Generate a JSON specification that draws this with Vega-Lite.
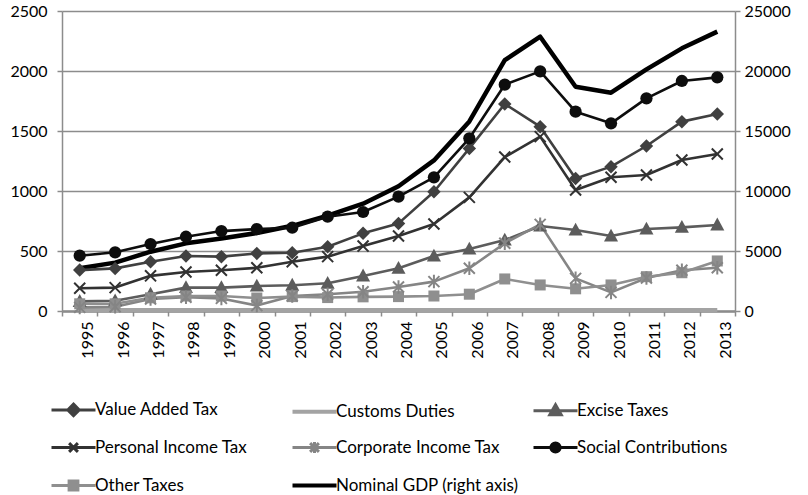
{
  "$schema": "https://vega.github.io/schema/vega-lite/v6.json",
  "width": 673,
  "height": 300,
  "autosize": {"type": "none"},
  "padding": {"left": 62, "top": 11, "right": 73, "bottom": 184},
  "background": "white",
  "config": {"font": "Lato", "view": {"stroke": null}},
  "datasets": {
    "taxes": [
      {"year":"1995","series":"Value Added Tax","value":341},{"year":"1996","series":"Value Added Tax","value":355},{"year":"1997","series":"Value Added Tax","value":411},{"year":"1998","series":"Value Added Tax","value":458},{"year":"1999","series":"Value Added Tax","value":453},{"year":"2000","series":"Value Added Tax","value":480},{"year":"2001","series":"Value Added Tax","value":486},{"year":"2002","series":"Value Added Tax","value":536},{"year":"2003","series":"Value Added Tax","value":647},{"year":"2004","series":"Value Added Tax","value":730},{"year":"2005","series":"Value Added Tax","value":994},{"year":"2006","series":"Value Added Tax","value":1355},{"year":"2007","series":"Value Added Tax","value":1725},{"year":"2008","series":"Value Added Tax","value":1536},{"year":"2009","series":"Value Added Tax","value":1105},{"year":"2010","series":"Value Added Tax","value":1203},{"year":"2011","series":"Value Added Tax","value":1375},{"year":"2012","series":"Value Added Tax","value":1578},{"year":"2013","series":"Value Added Tax","value":1642},
      {"year":"1995","series":"Customs Duties","value":8},{"year":"1996","series":"Customs Duties","value":8},{"year":"1997","series":"Customs Duties","value":8},{"year":"1998","series":"Customs Duties","value":8},{"year":"1999","series":"Customs Duties","value":8},{"year":"2000","series":"Customs Duties","value":8},{"year":"2001","series":"Customs Duties","value":8},{"year":"2002","series":"Customs Duties","value":8},{"year":"2003","series":"Customs Duties","value":8},{"year":"2004","series":"Customs Duties","value":8},{"year":"2005","series":"Customs Duties","value":8},{"year":"2006","series":"Customs Duties","value":8},{"year":"2007","series":"Customs Duties","value":8},{"year":"2008","series":"Customs Duties","value":8},{"year":"2009","series":"Customs Duties","value":8},{"year":"2010","series":"Customs Duties","value":8},{"year":"2011","series":"Customs Duties","value":8},{"year":"2012","series":"Customs Duties","value":8},{"year":"2013","series":"Customs Duties","value":8},
      {"year":"1995","series":"Excise Taxes","value":80},{"year":"1996","series":"Excise Taxes","value":85},{"year":"1997","series":"Excise Taxes","value":140},{"year":"1998","series":"Excise Taxes","value":195},{"year":"1999","series":"Excise Taxes","value":195},{"year":"2000","series":"Excise Taxes","value":208},{"year":"2001","series":"Excise Taxes","value":215},{"year":"2002","series":"Excise Taxes","value":231},{"year":"2003","series":"Excise Taxes","value":292},{"year":"2004","series":"Excise Taxes","value":356},{"year":"2005","series":"Excise Taxes","value":458},{"year":"2006","series":"Excise Taxes","value":516},{"year":"2007","series":"Excise Taxes","value":591},{"year":"2008","series":"Excise Taxes","value":708},{"year":"2009","series":"Excise Taxes","value":675},{"year":"2010","series":"Excise Taxes","value":625},{"year":"2011","series":"Excise Taxes","value":683},{"year":"2012","series":"Excise Taxes","value":697},{"year":"2013","series":"Excise Taxes","value":717},
      {"year":"1995","series":"Personal Income Tax","value":190},{"year":"1996","series":"Personal Income Tax","value":195},{"year":"1997","series":"Personal Income Tax","value":293},{"year":"1998","series":"Personal Income Tax","value":325},{"year":"1999","series":"Personal Income Tax","value":340},{"year":"2000","series":"Personal Income Tax","value":360},{"year":"2001","series":"Personal Income Tax","value":410},{"year":"2002","series":"Personal Income Tax","value":453},{"year":"2003","series":"Personal Income Tax","value":541},{"year":"2004","series":"Personal Income Tax","value":625},{"year":"2005","series":"Personal Income Tax","value":725},{"year":"2006","series":"Personal Income Tax","value":947},{"year":"2007","series":"Personal Income Tax","value":1283},{"year":"2008","series":"Personal Income Tax","value":1453},{"year":"2009","series":"Personal Income Tax","value":1008},{"year":"2010","series":"Personal Income Tax","value":1114},{"year":"2011","series":"Personal Income Tax","value":1133},{"year":"2012","series":"Personal Income Tax","value":1258},{"year":"2013","series":"Personal Income Tax","value":1308},
      {"year":"1995","series":"Corporate Income Tax","value":30},{"year":"1996","series":"Corporate Income Tax","value":35},{"year":"1997","series":"Corporate Income Tax","value":100},{"year":"1998","series":"Corporate Income Tax","value":115},{"year":"1999","series":"Corporate Income Tax","value":105},{"year":"2000","series":"Corporate Income Tax","value":45},{"year":"2001","series":"Corporate Income Tax","value":125},{"year":"2002","series":"Corporate Income Tax","value":140},{"year":"2003","series":"Corporate Income Tax","value":160},{"year":"2004","series":"Corporate Income Tax","value":200},{"year":"2005","series":"Corporate Income Tax","value":245},{"year":"2006","series":"Corporate Income Tax","value":356},{"year":"2007","series":"Corporate Income Tax","value":565},{"year":"2008","series":"Corporate Income Tax","value":722},{"year":"2009","series":"Corporate Income Tax","value":272},{"year":"2010","series":"Corporate Income Tax","value":155},{"year":"2011","series":"Corporate Income Tax","value":275},{"year":"2012","series":"Corporate Income Tax","value":340},{"year":"2013","series":"Corporate Income Tax","value":360},
      {"year":"1995","series":"Social Contributions","value":461},{"year":"1996","series":"Social Contributions","value":489},{"year":"1997","series":"Social Contributions","value":558},{"year":"1998","series":"Social Contributions","value":619},{"year":"1999","series":"Social Contributions","value":666},{"year":"2000","series":"Social Contributions","value":683},{"year":"2001","series":"Social Contributions","value":694},{"year":"2002","series":"Social Contributions","value":786},{"year":"2003","series":"Social Contributions","value":825},{"year":"2004","series":"Social Contributions","value":953},{"year":"2005","series":"Social Contributions","value":1114},{"year":"2006","series":"Social Contributions","value":1439},{"year":"2007","series":"Social Contributions","value":1886},{"year":"2008","series":"Social Contributions","value":1997},{"year":"2009","series":"Social Contributions","value":1661},{"year":"2010","series":"Social Contributions","value":1564},{"year":"2011","series":"Social Contributions","value":1772},{"year":"2012","series":"Social Contributions","value":1917},{"year":"2013","series":"Social Contributions","value":1947},
      {"year":"1995","series":"Other Taxes","value":60},{"year":"1996","series":"Other Taxes","value":60},{"year":"1997","series":"Other Taxes","value":110},{"year":"1998","series":"Other Taxes","value":125},{"year":"1999","series":"Other Taxes","value":125},{"year":"2000","series":"Other Taxes","value":108},{"year":"2001","series":"Other Taxes","value":120},{"year":"2002","series":"Other Taxes","value":112},{"year":"2003","series":"Other Taxes","value":118},{"year":"2004","series":"Other Taxes","value":120},{"year":"2005","series":"Other Taxes","value":125},{"year":"2006","series":"Other Taxes","value":140},{"year":"2007","series":"Other Taxes","value":267},{"year":"2008","series":"Other Taxes","value":217},{"year":"2009","series":"Other Taxes","value":185},{"year":"2010","series":"Other Taxes","value":217},{"year":"2011","series":"Other Taxes","value":286},{"year":"2012","series":"Other Taxes","value":319},{"year":"2013","series":"Other Taxes","value":417}
    ],
    "gdp": [
      {"year":"1995","series":"Nominal GDP (right axis)","value":3560},{"year":"1996","series":"Nominal GDP (right axis)","value":4030},{"year":"1997","series":"Nominal GDP (right axis)","value":4940},{"year":"1998","series":"Nominal GDP (right axis)","value":5640},{"year":"1999","series":"Nominal GDP (right axis)","value":6050},{"year":"2000","series":"Nominal GDP (right axis)","value":6500},{"year":"2001","series":"Nominal GDP (right axis)","value":7100},{"year":"2002","series":"Nominal GDP (right axis)","value":7950},{"year":"2003","series":"Nominal GDP (right axis)","value":8940},{"year":"2004","series":"Nominal GDP (right axis)","value":10400},{"year":"2005","series":"Nominal GDP (right axis)","value":12550},{"year":"2006","series":"Nominal GDP (right axis)","value":15800},{"year":"2007","series":"Nominal GDP (right axis)","value":20900},{"year":"2008","series":"Nominal GDP (right axis)","value":22860},{"year":"2009","series":"Nominal GDP (right axis)","value":18690},{"year":"2010","series":"Nominal GDP (right axis)","value":18190},{"year":"2011","series":"Nominal GDP (right axis)","value":20140},{"year":"2012","series":"Nominal GDP (right axis)","value":21890},{"year":"2013","series":"Nominal GDP (right axis)","value":23280}
    ]
  },
  "encoding": {
    "x": {
      "field": "year", "type": "ordinal", "bandPosition": 0.5,
      "scale": {"type": "band", "paddingInner": 0, "paddingOuter": 0},
      "axis": {"title": null, "labelAngle": 270, "labelAlign": "right", "labelBaseline": "top", "labelFontSize": 16, "labelColor": "#000000", "labelPadding": 5, "tickBand": "extent", "tickSize": 5, "tickColor": "#8c8c8c", "tickWidth": 1.5, "domainColor": "#8c8c8c", "domainWidth": 2.5, "grid": false}
    },
    "color": {
      "field": "series", "type": "nominal",
      "scale": {
        "domain": ["Value Added Tax","Customs Duties","Excise Taxes","Personal Income Tax","Corporate Income Tax","Social Contributions","Other Taxes","Nominal GDP (right axis)"],
        "range": ["#404040","#a3a3a3","#5c5c5c","#323232","#858585","#0d0d0d","#8f8f8f","#000000"]
      },
      "legend": {
        "title": null, "orient": "none", "legendX": 3, "legendY": 390, "columns": 3, "direction": "horizontal", "gridAlign": "all",
        "columnPadding": 6, "rowPadding": 14, "symbolSize": 1936, "labelFont": "Lato", "labelFontSize": 17, "labelColor": "#000000", "labelOffset": 13, "labelLimit": 300,
        "encode": {
          "symbols": {
            "update": {
              "shape": {"signal": "datum.value === 'Value Added Tax' ? 'M-1,0H1M0,-0.26L0.26,0L0,0.26L-0.26,0Z' : datum.value === 'Excise Taxes' ? 'M-1,0H1M0,-0.27L0.26,0.19L-0.26,0.19Z' : datum.value === 'Personal Income Tax' ? 'M-1,0H1M-0.2,-0.2L0.2,0.2M-0.2,0.2L0.2,-0.2' : datum.value === 'Corporate Income Tax' ? 'M-1,0H1M-0.2,-0.2L0.2,0.2M-0.2,0.2L0.2,-0.2M0,-0.25V0.25' : datum.value === 'Social Contributions' ? 'M-1,0H1M-0.21,0A0.21,0.21 0 1,0 0.21,0A0.21,0.21 0 1,0 -0.21,0Z' : datum.value === 'Other Taxes' ? 'M-1,0H1M-0.2,-0.2H0.2V0.2H-0.2Z' : 'M-1,0H1'"},
              "fill": {"scale": "color", "field": "value"},
              "stroke": {"scale": "color", "field": "value"},
              "strokeWidth": {"signal": "datum.value === 'Nominal GDP (right axis)' || datum.value === 'Customs Duties' ? 4 : 3"},
              "opacity": {"value": 1}
            }
          }
        }
      }
    }
  },
  "layer": [
    {
      "data": {"name": "gdp"},
      "mark": {"type": "line", "strokeWidth": 4.5, "strokeJoin": "round"},
      "encoding": {
        "y": {"field": "value", "type": "quantitative", "scale": {"domain": [0, 25000], "nice": false},
          "axis": {"orient": "right", "title": null, "format": "d", "values": [0,5000,10000,15000,20000,25000], "grid": false, "labelFontSize": 16, "labelColor": "#000000", "labelPadding": 4, "tickSize": 5, "tickColor": "#8c8c8c", "tickWidth": 1.5, "domainColor": "#8c8c8c", "domainWidth": 1.5}}
      }
    },
    {
      "data": {"name": "taxes"},
      "encoding": {
        "y": {"field": "value", "type": "quantitative", "scale": {"domain": [0, 2500], "nice": false},
          "axis": {"orient": "left", "title": null, "format": "d", "values": [0,500,1000,1500,2000,2500], "grid": true, "gridColor": "#8c8c8c", "gridWidth": 1.5, "labelFontSize": 16, "labelColor": "#000000", "labelPadding": 10, "tickSize": 5, "tickColor": "#8c8c8c", "tickWidth": 1.5, "domainColor": "#8c8c8c", "domainWidth": 1.5}}
      },
      "layer": [
        {
          "transform": [{"filter": {"field": "series", "equal": "Customs Duties"}}],
          "mark": {"type": "line", "strokeWidth": 4}
        },
        {
          "transform": [{"filter": {"field": "series", "oneOf": ["Value Added Tax","Excise Taxes","Personal Income Tax","Corporate Income Tax","Social Contributions","Other Taxes"]}}],
          "mark": {"type": "line", "strokeWidth": 2.6, "strokeJoin": "round"}
        },
        {
          "transform": [{"filter": {"field": "series", "oneOf": ["Value Added Tax","Excise Taxes","Social Contributions","Other Taxes"]}}],
          "mark": {"type": "point", "filled": true, "opacity": 1, "size": 150},
          "encoding": {
            "shape": {"field": "series", "type": "nominal", "legend": null,
              "scale": {"domain": ["Value Added Tax","Excise Taxes","Personal Income Tax","Corporate Income Tax","Social Contributions","Other Taxes"],
                "range": ["M0,-1.1L1.1,0L0,1.1L-1.1,0Z","M0,-1.2L1.15,0.9L-1.15,0.9Z","M-0.9,-0.9L0.9,0.9M-0.9,0.9L0.9,-0.9","M-0.9,-0.9L0.9,0.9M-0.9,0.9L0.9,-0.9M0,-1.1V1.1","circle","M-0.9,-0.9H0.9V0.9H-0.9Z"]}}
          }
        },
        {
          "transform": [{"filter": {"field": "series", "oneOf": ["Personal Income Tax","Corporate Income Tax"]}}],
          "mark": {"type": "point", "filled": false, "opacity": 1, "size": 150, "strokeWidth": 2},
          "encoding": {
            "shape": {"field": "series", "type": "nominal", "legend": null,
              "scale": {"domain": ["Value Added Tax","Excise Taxes","Personal Income Tax","Corporate Income Tax","Social Contributions","Other Taxes"],
                "range": ["M0,-1.1L1.1,0L0,1.1L-1.1,0Z","M0,-1.2L1.15,0.9L-1.15,0.9Z","M-0.9,-0.9L0.9,0.9M-0.9,0.9L0.9,-0.9","M-0.9,-0.9L0.9,0.9M-0.9,0.9L0.9,-0.9M0,-1.1V1.1","circle","M-0.9,-0.9H0.9V0.9H-0.9Z"]}}
          }
        }
      ]
    }
  ],
  "resolve": {"scale": {"y": "independent"}}
}
